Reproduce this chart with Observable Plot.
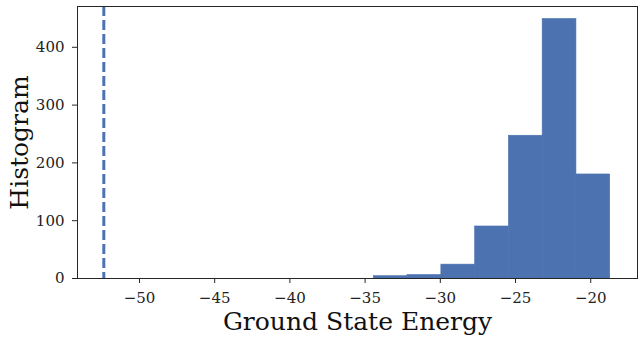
<!DOCTYPE html>
<html>
<head>
<meta charset="utf-8">
<script src="https://cdn.jsdelivr.net/npm/d3@7"></script>
<script src="https://cdn.jsdelivr.net/npm/@observablehq/plot@0.6"></script>
<style>
  html, body { margin: 0; padding: 0; background: #fff; }
  #chart svg { display: block; }
</style>
</head>
<body>
<div id="chart"></div>
<script>
const binStart = -34.42;
const binWidth = 2.245;
const counts = [4, 6, 24, 90, 247, 449, 180];
const refEnergy = -52.37;
const xTicks = [-50, -45, -40, -35, -30, -25, -20];
const yTicks = [0, 100, 200, 300, 400];
const xLabel = "Ground State Energy";
const yLabel = "Histogram";

const bins = counts.map((c, i) => ({
  x1: binStart + i * binWidth,
  x2: binStart + (i + 1) * binWidth,
  y: c
}));

const fmt = d => String(d).replace("-", "\u2212");

const chart = Plot.plot({
  width: 642,
  height: 341,
  marginLeft: 77,
  marginRight: 5,
  marginTop: 6,
  marginBottom: 63,
  style: { fontFamily: "'DejaVu Serif', serif", fontSize: "15px", color: "#222", background: "#fff" },
  x: { domain: [-54.12, -16.89], label: null },
  y: { domain: [0, 470.6], label: null },
  marks: [
    Plot.rectY(bins, { x1: "x1", x2: "x2", y: "y", fill: "#4C72B0", stroke: "#4C72B0", strokeWidth: 0.6, inset: 0 }),
    Plot.ruleX([refEnergy], { stroke: "#4C72B0", strokeWidth: 3, strokeDasharray: "10,4" }),
    Plot.frame({ stroke: "#262626", strokeWidth: 1 }),
    Plot.axisX({ ticks: xTicks, tickFormat: fmt, tickSize: 5, tickPadding: 9, stroke: "#262626", fill: "#222", fontSize: 15, label: null }),
    Plot.axisY({ ticks: yTicks, tickFormat: fmt, tickSize: 5, tickPadding: 8, stroke: "#262626", fill: "#222", fontSize: 15, label: null }),
    Plot.text([xLabel], { frameAnchor: "bottom", dy: 51, text: d => d, fontSize: 25, fill: "#111", lineAnchor: "bottom" }),
    Plot.text([yLabel], { frameAnchor: "left", dx: -58, rotate: -90, textAnchor: "middle", text: d => d, fontSize: 25, fill: "#111" })
  ]
});
document.getElementById("chart").appendChild(chart);
</script>
</body>
</html>
